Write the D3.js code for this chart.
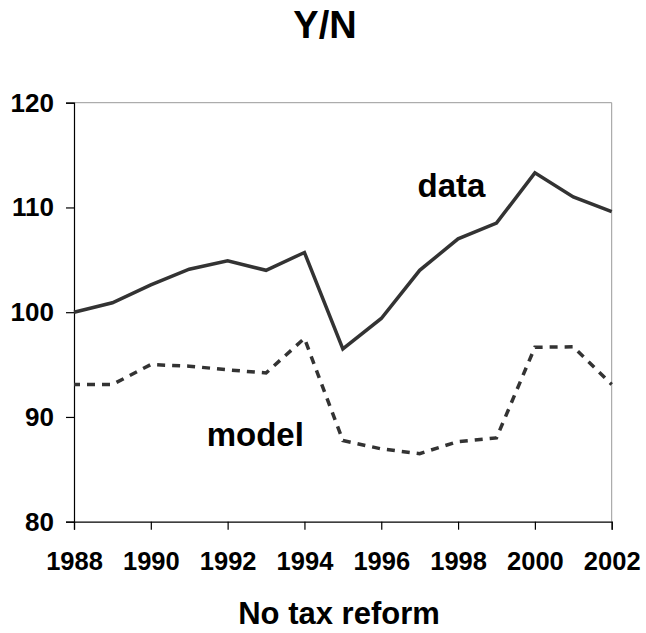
<!DOCTYPE html>
<html>
<head>
<meta charset="utf-8">
<script src="https://cdn.jsdelivr.net/npm/d3@7"></script>
<style>
  body { margin: 0; background: #fff; }
  text { font-family: "Liberation Sans", Arial, sans-serif; font-weight: bold; fill: #000; }
</style>
</head>
<body>
<div id="app"></div>
<script>
const years = d3.range(1988, 2003);
const dataSeries = [100, 100.9, 102.6, 104.1, 104.9, 104.0, 105.7, 96.5, 99.4, 104.0, 107.0, 108.5, 113.3, 111.0, 109.6];
const modelSeries = [93.1, 93.1, 95.0, 94.85, 94.5, 94.2, 97.5, 87.75, 86.95, 86.5, 87.65, 88.0, 96.65, 96.7, 93.1];
const yTicks = [80, 90, 100, 110, 120];
const xTicks = [1988, 1990, 1992, 1994, 1996, 1998, 2000, 2002];

const width = 646;
const height = 633;
const margin = { top: 102.7, right: 34.3, bottom: 111.3, left: 74 };

const svg = d3.select('#app').append('svg')
  .attr('width', width)
  .attr('height', height);

const x = d3.scaleLinear()
  .domain([1988, 2002])
  .range([margin.left, width - margin.right]);

const y = d3.scaleLinear()
  .domain([80, 120])
  .range([height - margin.bottom, margin.top]);

// top and right frame, light grey
svg.append('path')
  .attr('d', `M${x(1988)},${y(120)}H${x(2002)}V${y(80)}`)
  .attr('fill', 'none')
  .attr('stroke', '#999')
  .attr('stroke-width', 1);

const yAxis = d3.axisLeft(y).tickValues(yTicks).tickSize(8).tickPadding(12);
const gy = svg.append('g')
  .attr('transform', `translate(${margin.left},0)`)
  .call(yAxis);
gy.selectAll('text').style('font-size', '26px');

const xAxis = d3.axisBottom(x).tickValues(xTicks).tickFormat(d3.format('d')).tickSize(8).tickPadding(22);
const gx = svg.append('g')
  .attr('transform', `translate(0,${height - margin.bottom})`)
  .call(xAxis);
gx.selectAll('text').style('font-size', '25.5px');

svg.selectAll('.domain, .tick line').attr('stroke', '#000').attr('stroke-width', 1.2);

const line = d3.line()
  .x((d, i) => x(years[i]))
  .y(d => y(d));

svg.append('path')
  .datum(modelSeries)
  .attr('d', line)
  .attr('fill', 'none')
  .attr('stroke', '#333')
  .attr('stroke-width', 3.5)
  .attr('stroke-dasharray', '8,7')
  .attr('stroke-dashoffset', 2);

svg.append('path')
  .datum(dataSeries)
  .attr('d', line)
  .attr('fill', 'none')
  .attr('stroke', '#333')
  .attr('stroke-width', 3.5)
  .attr('stroke-linejoin', 'miter');

// series labels
svg.append('text')
  .attr('x', x(1997.83)).attr('y', y(111.0))
  .attr('text-anchor', 'middle')
  .style('font-size', '33px')
  .text('data');

svg.append('text')
  .attr('x', x(1992.72)).attr('y', y(87.23))
  .attr('text-anchor', 'middle')
  .style('font-size', '33px')
  .text('model');

svg.append('text')
  .attr('x', 325).attr('y', 38)
  .attr('text-anchor', 'middle')
  .style('font-size', '38px')
  .text('Y/N');

svg.append('text')
  .attr('x', 339).attr('y', 624)
  .attr('text-anchor', 'middle')
  .style('font-size', '31px')
  .text('No tax reform');
</script>
</body>
</html>
